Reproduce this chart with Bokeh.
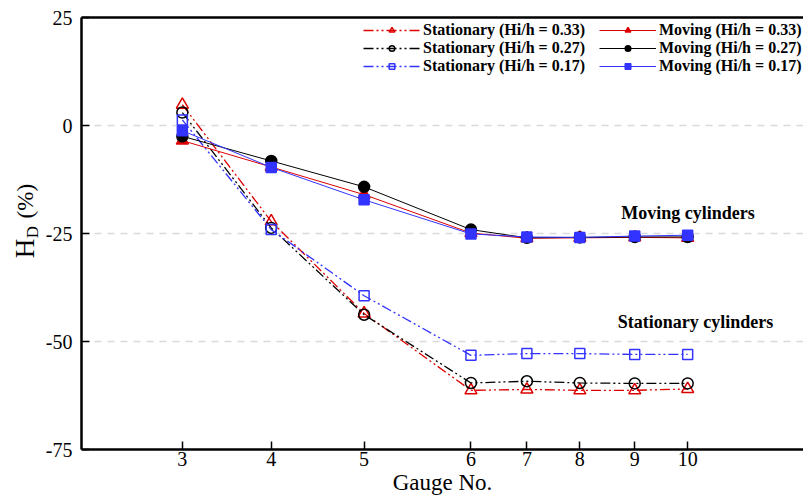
import math
from bokeh.plotting import figure
from bokeh.layouts import row
from bokeh.models import Range1d, FixedTicker, LinearAxis, Legend, LegendItem, Label
from bokeh.embed import file_html
from bokeh.resources import INLINE

# ---- data ----
gauges = [3, 4, 5, 6, 7, 8, 9, 10]
gauge_pos = [2.02, 3.80, 5.66, 7.80, 8.92, 9.98, 11.08, 12.14]   # gauge locations along the axis

stat_033 = [4.8, -22.2, -43.5, -61.3, -61.1, -61.3, -61.3, -61.0]
stat_027 = [3.0, -23.7, -43.8, -59.6, -59.2, -59.6, -59.7, -59.7]
stat_017 = [1.3, -24.1, -39.4, -53.2, -52.8, -52.8, -53.0, -53.0]
mov_033 = [-3.5, -9.6, -16.0, -24.9, -26.1, -26.0, -25.9, -26.0]
mov_027 = [-2.5, -8.2, -14.2, -24.1, -26.0, -25.9, -25.8, -25.8]
mov_017 = [-1.2, -9.7, -17.2, -25.1, -25.8, -25.9, -25.6, -25.4]

y_ticks = [-75, -50, -25, 0, 25]
grid_ticks = [-50, -25, 0]

RED = "#dd0000"
BLACK = "#000000"
BLUE = "#3333ff"
FONT = "Liberation Serif"

LEFT_W = 42
W, H = 803, 501

p = figure(width=W - LEFT_W, height=H, output_backend="svg", toolbar_location=None,
           x_range=Range1d(0, 14.46), y_range=Range1d(-75, 25),
           min_border_left=80 - LEFT_W, min_border_right=0, min_border_top=17,
           min_border_bottom=52)
p.outline_line_color = None
p.background_fill_color = "white"
p.border_fill_color = "white"

# axes
xa = p.xaxis[0]
xa.ticker = FixedTicker(ticks=gauge_pos)
xa.major_label_overrides = {pos: str(g) for pos, g in zip(gauge_pos, gauges)}
xa.axis_label = "Gauge No."
xa.axis_label_text_font = FONT
xa.axis_label_text_font_style = "normal"
xa.axis_label_text_font_size = "23px"
xa.axis_label_text_color = "black"
xa.axis_label_standoff = 1
ya = p.yaxis[0]
ya.ticker = FixedTicker(ticks=y_ticks)
ya.major_label_overrides = {t: str(t) for t in y_ticks}
for ax in (xa, ya):
    ax.axis_line_width = 2.5
    ax.axis_line_color = "black"
    ax.major_tick_in = 8
    ax.major_tick_out = 0
    ax.major_tick_line_width = 1.5
    ax.minor_tick_line_color = None
    ax.major_label_text_font = FONT
    ax.major_label_text_font_size = "20px"
    ax.major_label_text_color = "black"
xa.major_label_standoff = 2
ya.major_label_standoff = 9

top = LinearAxis(ticker=FixedTicker(ticks=[]), axis_line_width=2.5, axis_line_color="black",
                 major_tick_line_color=None, minor_tick_line_color=None,
                 major_label_text_font_size="0px", major_label_standoff=0)
p.add_layout(top, "above")

p.xgrid.grid_line_color = None
p.ygrid.ticker = FixedTicker(ticks=grid_ticks)
p.ygrid.grid_line_color = "#d9d9d9"
p.ygrid.grid_line_width = 1.5
p.ygrid.grid_line_dash = "7 6"

DASH = "10 3 2 3 2 3"

def series(y, color, marker, filled, dash, size):
    ln = p.line(gauge_pos, y, line_color=color, line_width=1.3 if dash else 1.0,
                line_dash=dash if dash else "solid")
    sc = p.scatter(gauge_pos, y, marker=marker, size=size, line_color=color,
                   line_width=1.5, fill_color=color if filled else "white",
                   fill_alpha=1.0 if filled else 0.0)
    return [ln, sc]

r_s33 = series(stat_033, RED, "triangle", False, DASH, 12)
r_s27 = series(stat_027, BLACK, "circle", False, DASH, 11)
r_s17 = series(stat_017, BLUE, "square", False, DASH, 10)
r_m33 = series(mov_033, RED, "triangle", True, None, 12)
r_m27 = series(mov_027, BLACK, "circle", True, None, 11)
r_m17 = series(mov_017, BLUE, "square", True, None, 10)

def make_legend(items, loc):
    lg = Legend(items=items, location=loc)
    lg.background_fill_alpha = 0
    lg.border_line_color = None
    lg.label_text_font = FONT
    lg.label_text_font_style = "bold"
    lg.label_text_font_size = "16px"
    lg.label_text_color = "black"
    lg.glyph_width = 57
    lg.glyph_height = 14
    lg.label_standoff = 3
    lg.spacing = -3
    lg.padding = 0
    lg.margin = 0
    lg.label_height = 14
    return lg

leg_stat = make_legend([
    LegendItem(label="Stationary (Hi/h = 0.33)", renderers=r_s33),
    LegendItem(label="Stationary (Hi/h = 0.27)", renderers=r_s27),
    LegendItem(label="Stationary (Hi/h = 0.17)", renderers=r_s17),
], (282, 374))
leg_mov = make_legend([
    LegendItem(label="Moving (Hi/h = 0.33)", renderers=r_m33),
    LegendItem(label="Moving (Hi/h = 0.27)", renderers=r_m27),
    LegendItem(label="Moving (Hi/h = 0.17)", renderers=r_m17),
], (518, 374))
p.add_layout(leg_stat)
p.add_layout(leg_mov)

# annotations inside the plot area
p.add_layout(Label(x=12.19, y=-20.2, text="Moving  cylinders", text_font=FONT,
                   text_font_style="bold", text_font_size="18px", text_align="center",
                   text_baseline="middle", text_color="black"))
p.add_layout(Label(x=12.34, y=-45.4, text="Stationary  cylinders", text_font=FONT,
                   text_font_style="bold", text_font_size="18px", text_align="center",
                   text_baseline="middle", text_color="black"))

# narrow strip on the left holding the y-axis title H_D (%)
q = figure(width=LEFT_W, height=H, output_backend="svg", toolbar_location=None,
           x_range=Range1d(0, LEFT_W), y_range=Range1d(0, H),
           x_axis_type=None, y_axis_type=None,
           min_border_left=0, min_border_right=0, min_border_top=0, min_border_bottom=0)
q.outline_line_color = None
q.grid.visible = False
q.background_fill_color = "white"
q.border_fill_color = "white"
q.add_layout(Label(x=24, y=H - 268, text="H", text_font=FONT, text_font_size="27px",
                   angle=math.pi / 2, text_align="center", text_baseline="middle",
                   text_color="black"))
q.add_layout(Label(x=32, y=H - 249, text="D", text_font=FONT, text_font_size="17px",
                   angle=math.pi / 2, text_align="center", text_baseline="middle",
                   text_color="black"))
q.add_layout(Label(x=25, y=H - 213, text="(%)", text_font=FONT, text_font_size="23px",
                   angle=math.pi / 2, text_align="center", text_baseline="middle",
                   text_color="black"))

layout = row(q, p)
open("out.html", "w").write(file_html(layout, INLINE))
